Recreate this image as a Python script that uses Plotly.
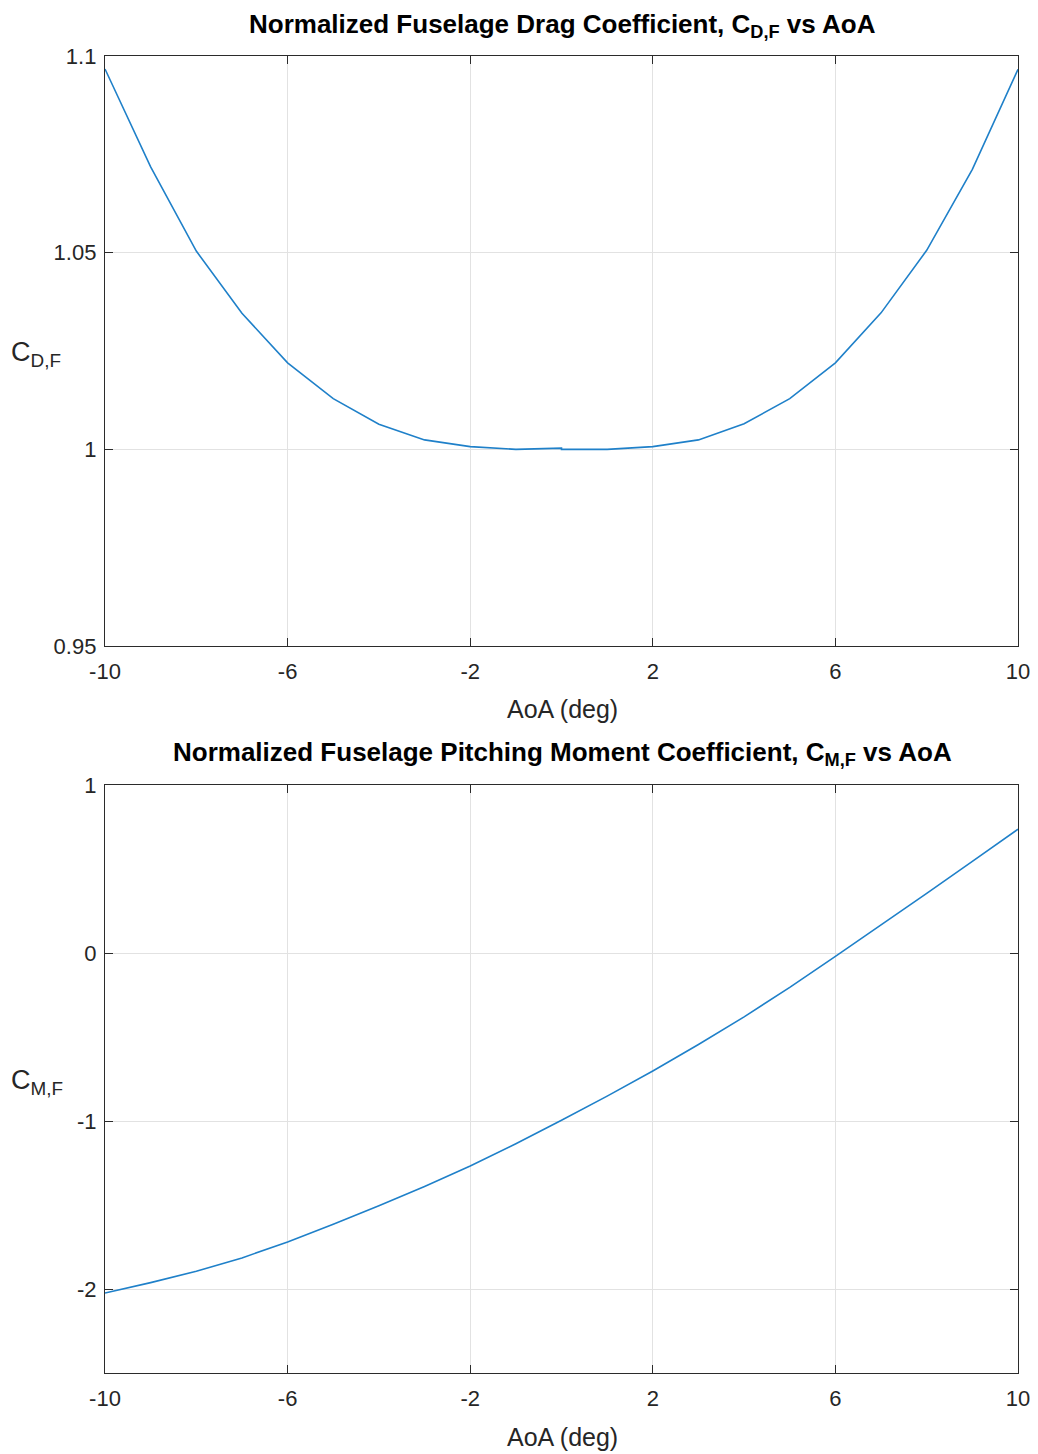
import plotly.graph_objects as go
from plotly.subplots import make_subplots

# Angle of attack grid (deg); the drag curve is sampled on each half, both meeting at 0
aoa_neg = [-10, -9, -8, -7, -6, -5, -4, -3, -2, -1, 0]
aoa_pos = [0, 1, 2, 3, 4, 5, 6, 7, 8, 9, 10]
aoa_all = [-10, -9, -8, -7, -6, -5, -4, -3, -2, -1, 0, 1, 2, 3, 4, 5, 6, 7, 8, 9, 10]

# Normalized fuselage drag coefficient C_D,F
cd_neg = [1.0967, 1.0718, 1.0504, 1.0346, 1.0220, 1.0129, 1.0064, 1.0024, 1.0007, 1.0000, 1.0003]
cd_pos = [1.0000, 1.0000, 1.0007, 1.0024, 1.0065, 1.0129, 1.0220, 1.0347, 1.0506, 1.0712, 1.0966]

# Normalized fuselage pitching moment coefficient C_M,F
cm_vals = [-2.024, -1.962, -1.894, -1.815, -1.720, -1.615, -1.505, -1.390, -1.268, -1.135,
           -0.996, -0.852, -0.702, -0.545, -0.380, -0.205, -0.020, 0.165, 0.355, 0.545, 0.737]

x_ticks = [-10, -6, -2, 2, 6, 10]
x_tick_text = ["-10", "-6", "-2", "2", "6", "10"]
cd_ticks = [0.95, 1.0, 1.05, 1.1]
cd_tick_text = ["0.95", "1", "1.05", "1.1"]
cm_ticks = [-2, -1, 0, 1]
cm_tick_text = ["-2", "-1", "0", "1"]

W, H = 1038, 1454
FONT = "Liberation Sans, Arial, Helvetica, sans-serif"
TXT = "#262626"
LINE = "#1f80c9"

fig = make_subplots(rows=2, cols=1)

fig.add_trace(go.Scatter(x=aoa_neg + aoa_pos, y=cd_neg + cd_pos, mode="lines",
                         line=dict(color=LINE, width=1.6), showlegend=False), row=1, col=1)
fig.add_trace(go.Scatter(x=aoa_all, y=cm_vals, mode="lines",
                         line=dict(color=LINE, width=1.6), showlegend=False), row=2, col=1)

def px_x(p):
    return p / W

def px_y(p):
    return 1 - p / H

xdom = [px_x(105), px_x(1018)]
top_dom = [px_y(646), px_y(56)]
bot_dom = [px_y(1373), px_y(785)]

axis_common = dict(
    showline=True, linecolor="#2b2b2b", linewidth=1.3, mirror="ticks",
    ticks="inside", ticklen=8, tickwidth=1.3, tickcolor="#2b2b2b",
    showgrid=True, gridcolor="#e2e2e2", gridwidth=1, zeroline=False,
    automargin=False,
    tickfont=dict(family=FONT, size=22, color=TXT),
)

fig.update_xaxes(domain=xdom, range=[-10, 10], tickvals=x_ticks, ticktext=x_tick_text,
                 ticklabelstandoff=5, **axis_common)
fig.update_yaxes(domain=top_dom, range=[0.95, 1.1], tickvals=cd_ticks, ticktext=cd_tick_text,
                 ticklabelstandoff=3, row=1, col=1, **axis_common)
fig.update_yaxes(domain=bot_dom, range=[-2.5, 1], tickvals=cm_ticks, ticktext=cm_tick_text,
                 ticklabelstandoff=3, row=2, col=1, **axis_common)

def label(text, x, y, size, bold=False, color=TXT, xanchor="center"):
    if bold:
        text = "<b>" + text + "</b>"
    fig.add_annotation(text=text, x=px_x(x), y=px_y(y), xref="paper", yref="paper",
                       xanchor=xanchor, yanchor="middle", showarrow=False,
                       font=dict(family=FONT, size=size, color=color))

label("Normalized Fuselage Drag Coefficient, C<sub>D,F</sub> vs AoA", 562, 25, 26, bold=True, color="#000000")
label("Normalized Fuselage Pitching Moment Coefficient, C<sub>M,F</sub> vs AoA", 562, 753, 26, bold=True, color="#000000")
label("AoA (deg)", 562, 709, 25)
label("AoA (deg)", 562, 1437, 25)
label("C<sub>D,F</sub>", 9, 354, 27, xanchor="left")
label("C<sub>M,F</sub>", 9, 1082, 27, xanchor="left")

fig.update_layout(
    width=W, height=H, margin=dict(l=0, r=0, t=0, b=0),
    paper_bgcolor="white", plot_bgcolor="white",
    font=dict(family=FONT, color=TXT),
)

fig.write_html("out.html")
